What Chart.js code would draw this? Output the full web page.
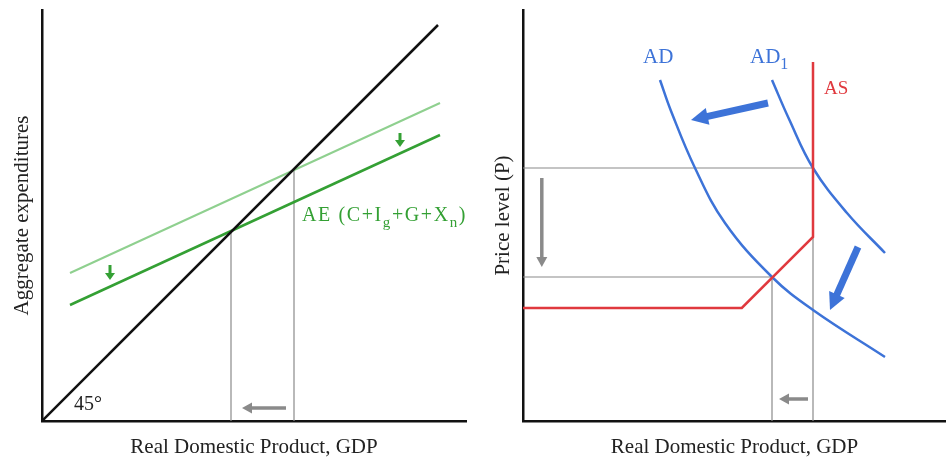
<!DOCTYPE html>
<html>
<head>
<meta charset="utf-8">
<script src="https://cdn.jsdelivr.net/npm/chart.js@4.4.1/dist/chart.umd.min.js"></script>
<style>
  body { margin: 0; background: #fff; }
  .box { position: absolute; top: 0; height: 460px; }
  #left { left: 0; width: 476px; }
  #right { left: 476px; width: 470px; }
</style>
</head>
<body>
<div class="box" id="left"><canvas id="c1"></canvas></div>
<div class="box" id="right"><canvas id="c2"></canvas></div>
<script>
function $(id) {
  return document.getElementById(id);
}

// left panel: aggregate expenditures (values in axis units)
const line45 = [[0, 0], [9.9, 9.9]];
const aeBefore = [[0.7, 3.7], [9.95, 7.95]];
const aeAfter = [[0.7, 2.9], [9.95, 7.15]];
const gdpBefore = 6.3;
const gdpAfter = 4.725;

// right panel: AD / AS
const adCurve = [[3.425, 8.525], [3.7, 7.75], [4.3, 6.325], [5.05, 4.95], [6.225, 3.6], [7.25, 2.775], [9.05, 1.6]];
const ad1Curve = [[6.225, 8.525], [6.65, 7.55], [7.25, 6.325], [8.1, 5.2], [9.05, 4.2]];
const asCurve = [[0, 2.825], [5.47, 2.825], [7.25, 4.6], [7.25, 8.975]];
const eqBefore = [7.25, 6.325];
const eqAfter = [6.225, 3.6];

// arrows, tail -> tip: [x1, y1, x2, y2]
const aeArrows = [[1.7, 3.9, 1.7, 3.525], [8.95, 7.2, 8.95, 6.85]];
const gdpArrowLeft = [[6.1, 0.325, 5.0, 0.325]];
const adArrows = [[6.125, 7.95, 4.2, 7.525], [8.375, 4.35, 7.675, 2.775]];
const grayArrowsRight = [[0.47, 6.075, 0.47, 3.85], [7.125, 0.55, 6.4, 0.55]];

const SERIF = "'Liberation Serif', 'Times New Roman', serif";
const GRAY = "#8a8a8a";
const BLUE = "#3d73d8";
const RED = "#e0393e";
const GREEN = "#34a034";
const LIGHTGREEN = "#8fd08f";

const pts = (arr) => arr.map((p) => ({ x: p[0], y: p[1] }));

function ds(data, color, width, smooth) {
  return {
    data: pts(data),
    borderColor: color,
    borderWidth: width,
    pointRadius: 0,
    fill: false,
    tension: smooth ? 0.4 : 0,
  };
}

function px(chart, x, y) {
  return [chart.scales.x.getPixelForValue(x), chart.scales.y.getPixelForValue(y)];
}

function arrow(chart, a, color, shaft, headLen, headW) {
  const ctx = chart.ctx;
  const [x1, y1] = px(chart, a[0], a[1]);
  const [x2, y2] = px(chart, a[2], a[3]);
  const ang = Math.atan2(y2 - y1, x2 - x1);
  const bx = x2 - headLen * Math.cos(ang);
  const by = y2 - headLen * Math.sin(ang);
  const s = Math.sin(ang), c = Math.cos(ang);
  ctx.save();
  ctx.strokeStyle = color;
  ctx.fillStyle = color;
  ctx.lineWidth = shaft;
  ctx.beginPath();
  ctx.moveTo(x1, y1);
  ctx.lineTo(bx + c, by + s);
  ctx.stroke();
  ctx.beginPath();
  ctx.moveTo(x2, y2);
  ctx.lineTo(bx + (headW / 2) * s, by - (headW / 2) * c);
  ctx.lineTo(bx - (headW / 2) * s, by + (headW / 2) * c);
  ctx.closePath();
  ctx.fill();
  ctx.restore();
}

// parts: [text, isSubscript]
function rich(chart, x, y, parts, color, size, spacing) {
  const ctx = chart.ctx;
  let [cx, cy] = px(chart, x, y);
  ctx.save();
  ctx.fillStyle = color;
  ctx.textBaseline = "alphabetic";
  ctx.textAlign = "left";
  ctx.letterSpacing = (spacing || 0) + "px";
  parts.forEach(([t, sub]) => {
    ctx.font = (sub ? Math.round(size * 0.75) : size) + "px " + SERIF;
    ctx.fillText(t, cx, sub ? cy + size * 0.3 : cy);
    cx += ctx.measureText(t).width;
  });
  ctx.restore();
}

function makeChart(canvas, datasets, yTitle, xMax, padding, yTitlePad, extras) {
  return new Chart(canvas, {
    type: "line",
    data: { datasets: datasets },
    options: {
      responsive: true,
      maintainAspectRatio: false,
      animation: false,
      layout: { padding: padding },
      plugins: { legend: { display: false }, tooltip: { enabled: false } },
      scales: {
        x: {
          type: "linear",
          min: 0,
          max: xMax,
          ticks: { display: false },
          grid: { display: false, drawTicks: false },
          border: { display: true, color: "#111", width: 2.5 },
          title: {
            display: true,
            text: "Real Domestic Product, GDP",
            color: "#222",
            font: { family: SERIF, size: 21 },
            padding: { top: 13.4, bottom: 0.4 },
          },
        },
        y: {
          type: "linear",
          min: 0,
          max: 10.275,
          ticks: { display: false },
          grid: { display: false, drawTicks: false },
          border: { display: true, color: "#111", width: 2.5 },
          title: {
            display: true,
            text: yTitle,
            color: "#222",
            font: { family: SERIF, size: 21 },
            padding: yTitlePad,
          },
        },
      },
    },
    plugins: [{ id: "extras", afterDatasetsDraw: extras }],
  });
}

function onload() {
  makeChart(
    $("c1"),
    [
      ds(line45, "#111", 2.5),
      ds(aeAfter, GREEN, 2.5),
      ds(aeBefore, LIGHTGREEN, 2),
      ds([[gdpAfter, 0], [gdpAfter, gdpAfter]], GRAY, 1.2),
      ds([[gdpBefore, 0], [gdpBefore, gdpBefore]], GRAY, 1.2),
    ],
    "Aggregate expenditures",
    10.6,
    { top: 10, right: 10, left: 0, bottom: 0 },
    { top: 9.4, bottom: 7.4 },
    (chart) => {
      aeArrows.forEach((a) => arrow(chart, a, GREEN, 3, 7, 10));
      gdpArrowLeft.forEach((a) => arrow(chart, a, GRAY, 3.5, 10, 11));
      rich(chart, 6.5, 5.0, [["AE (C+I"], ["g", 1], ["+G+X"], ["n", 1], [")"]], GREEN, 20, 1.6);
      rich(chart, 0.8, 0.275, [["45°"]], "#222", 20);
    }
  );

  makeChart(
    $("c2"),
    [
      ds(asCurve, RED, 2.5),
      ds(adCurve, BLUE, 2.5, true),
      ds(ad1Curve, BLUE, 2.5, true),
      ds([[0, eqBefore[1]], eqBefore], GRAY, 1.2),
      ds([[eqBefore[0], 0], eqBefore], GRAY, 1.2),
      ds([[0, eqAfter[1]], eqAfter], GRAY, 1.2),
      ds([[eqAfter[0], 0], eqAfter], GRAY, 1.2),
    ],
    "Price level (P)",
    10.575,
    { top: 10, right: 0, left: 0, bottom: 0 },
    { top: 14.4, bottom: 7.4 },
    (chart) => {
      adArrows.forEach((a) => arrow(chart, a, BLUE, 7, 17, 17));
      grayArrowsRight.forEach((a) => arrow(chart, a, GRAY, 3.5, 10, 11));
      rich(chart, 3.0, 8.95, [["AD"]], BLUE, 21);
      rich(chart, 5.675, 8.95, [["AD"], ["1", 1]], BLUE, 21);
      rich(chart, 7.525, 8.175, [["AS"]], RED, 19);
    }
  );
}

window.addEventListener("load", onload);
</script>
</body>
</html>
